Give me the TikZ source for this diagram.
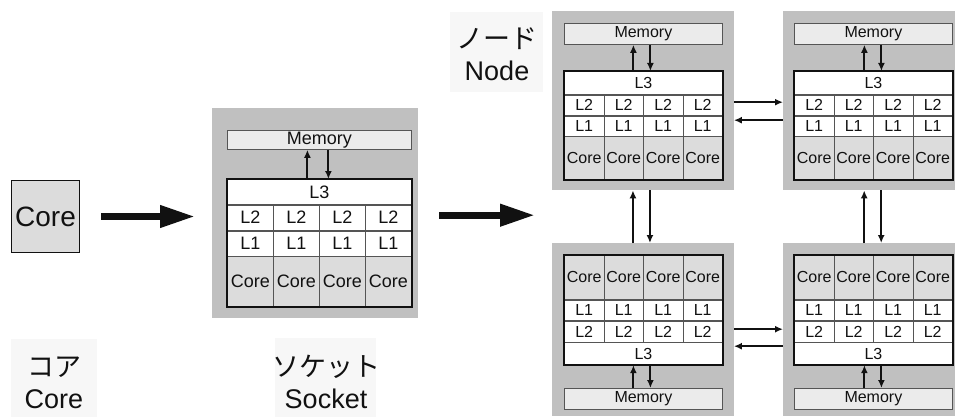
\documentclass[tikz,border=0pt]{standalone}
\usepackage{fontspec}
\setmainfont{Liberation Sans}
\newfontfamily\jpfont{Noto Sans CJK JP}
\usetikzlibrary{arrows.meta,calc}

\definecolor{chassis}{HTML}{C0C0C0}
\definecolor{memfill}{HTML}{EBEBEB}
\definecolor{corefill}{HTML}{DCDCDC}
\definecolor{labelfill}{HTML}{F7F7F7}
\definecolor{gridline}{HTML}{555555}
\definecolor{ink}{HTML}{111111}

\tikzset{
  box/.style={draw=gridline, line width=0.8pt, inner sep=0pt, anchor=north west, text=ink},
  cachecell/.style={box, fill=white},
  corecell/.style={box, fill=corefill},
  membox/.style={box, fill=memfill},
  chassisbox/.style={fill=chassis, inner sep=0pt, anchor=north west},
  frame/.style={draw=ink, line width=1.8pt},
  link/.style={draw=ink, line width=2pt, -{Latex[length=8pt,width=7pt]}},
  bigarrow/.style={draw=ink, line width=7pt, -{Triangle[length=35pt,width=21pt]}},
  captionbg/.style={fill=labelfill, anchor=north west, inner sep=0pt},
  captiontext/.style={align=center, text=ink, inner sep=0pt,
    font=\fontsize{27}{32}\selectfont},
  socketfont/.style={nodes={font=\fontsize{18}{20}\selectfont}},
  nodefont/.style={nodes={font=\fontsize{16}{18}\selectfont}},
}

% cache stack with L3 on top and the cores at the bottom
% #1 prefix, #2 x, #3 y, #4 column width, #5 L1/L2 height, #6 L3 height, #7 core height
\newcommand\stackdown[7]{%
  \node[cachecell, minimum width={4*#4pt}, minimum height=#6pt] (#1l3) at (#2,#3) {L3};
  \foreach \i in {1,2,3,4}{
    \node[cachecell, minimum width=#4pt, minimum height=#5pt] (#1l2\i)
      at ($(#1l3.south west)+({(\i-1)*#4},0)$) {L2};
    \node[cachecell, minimum width=#4pt, minimum height=#5pt] (#1l1\i)
      at (#1l2\i.south west) {L1};
    \node[corecell, minimum width=#4pt, minimum height=#7pt] (#1c\i)
      at (#1l1\i.south west) {Core};
  }
  \draw[frame] (#1l3.north west) rectangle (#1c4.south east);
}

% cache stack with the cores on top and L3 at the bottom
\newcommand\stackup[7]{%
  \foreach \i in {1,2,3,4}{
    \node[corecell, minimum width=#4pt, minimum height=#7pt] (#1c\i)
      at ({#2+(\i-1)*#4},#3) {Core};
    \node[cachecell, minimum width=#4pt, minimum height=#5pt] (#1l1\i)
      at (#1c\i.south west) {L1};
    \node[cachecell, minimum width=#4pt, minimum height=#5pt] (#1l2\i)
      at (#1l1\i.south west) {L2};
  }
  \node[cachecell, minimum width={4*#4pt}, minimum height=#6pt] (#1l3)
    at (#1l21.south west) {L3};
  \draw[frame] (#1c1.north west) rectangle (#1l3.south east);
}

\begin{document}
\begin{tikzpicture}[x=1pt,y=-1pt]
  \useasboundingbox (0,0) rectangle (955,417);
  \fill[white] (0,0) rectangle (955,417);

  % single core
  \node[draw=ink, line width=1pt, fill=corefill, inner sep=0pt, anchor=north west,
        minimum width=68pt, minimum height=72pt, text=ink,
        font=\fontsize{28}{30}\selectfont] (core) at (11,180) {Core};
  \node[captionbg, minimum width=86pt, minimum height=78pt] (corecap) at (11,339) {};
  \node[captiontext] (corecaptext) at (54,382.5) {{\jpfont コア}\\Core};

  % socket
  \node[chassisbox, minimum width=206pt, minimum height=210pt] (sbg) at (212,108) {};
  \begin{scope}[socketfont]
    \node[membox, minimum width=184pt, minimum height=19pt] (smem) at (227,130) {Memory};
    \stackdown{s}{227}{179}{46}{25}{25}{50}
  \end{scope}
  \draw[link] ([xshift=-12pt]sl3.north) -- ([xshift=-12pt]sl3.north |- smem.south);
  \draw[link] ([xshift=9pt]smem.south) -- ([xshift=9pt]smem.south |- sl3.north);
  \node[captionbg, minimum width=101pt, minimum height=79pt] (sockcap) at (275,338) {};
  \node[captiontext] (sockcaptext) at (326,382) {{\jpfont ソケット}\\Socket};

  % node made of four sockets
  \node[captionbg, minimum width=93pt, minimum height=80pt] (nodecap) at (450,12) {};
  \node[captiontext] (nodecaptext) at (497,54) {{\jpfont ノード}\\Node};
  \node[chassisbox, minimum width=181.5pt, minimum height=179pt] (abg) at (552,11) {};
  \node[chassisbox, minimum width=172pt, minimum height=179pt] (bbg) at (783,11) {};
  \node[chassisbox, minimum width=181.5pt, minimum height=173pt] (cbg) at (552,243) {};
  \node[chassisbox, minimum width=172pt, minimum height=173pt] (dbg) at (783,243) {};

  \begin{scope}[nodefont]
    \node[membox, minimum width=158pt, minimum height=21pt] (amem) at (564,23) {Memory};
    \stackdown{a}{564}{71}{39.5}{20}{23}{43}
    \node[membox, minimum width=158pt, minimum height=21pt] (bmem) at (794,23) {Memory};
    \stackdown{b}{794}{71}{39.5}{20}{23}{43}
    \stackup{c}{564}{255}{39.5}{20.5}{22}{44}
    \node[membox, minimum width=158pt, minimum height=21pt] (cmem) at (564,388) {Memory};
    \stackup{d}{794}{255}{39.5}{20.5}{22}{44}
    \node[membox, minimum width=158pt, minimum height=21pt] (dmem) at (794,388) {Memory};
  \end{scope}

  % memory <-> L3 links
  \draw[link] ([xshift=-10pt]al3.north) -- ([xshift=-10pt]al3.north |- amem.south);
  \draw[link] ([xshift=7pt]amem.south) -- ([xshift=7pt]amem.south |- al3.north);
  \draw[link] ([xshift=-9pt]bl3.north) -- ([xshift=-9pt]bl3.north |- bmem.south);
  \draw[link] ([xshift=8pt]bmem.south) -- ([xshift=8pt]bmem.south |- bl3.north);
  \draw[link] ([xshift=-10pt]cmem.north) -- ([xshift=-10pt]cmem.north |- cl3.south);
  \draw[link] ([xshift=7pt]cl3.south) -- ([xshift=7pt]cl3.south |- cmem.north);
  \draw[link] ([xshift=-9pt]dmem.north) -- ([xshift=-9pt]dmem.north |- dl3.south);
  \draw[link] ([xshift=8pt]dl3.south) -- ([xshift=8pt]dl3.south |- dmem.north);

  % socket <-> socket links
  \draw[link] ([yshift=-1.5pt]abg.east) -- ([yshift=-1.5pt]bbg.west);
  \draw[link] ([yshift=-19.5pt]bbg.west) -- ([yshift=-19.5pt]abg.east);
  \draw[link] ([yshift=0.5pt]cbg.east) -- ([yshift=0.5pt]dbg.west);
  \draw[link] ([yshift=-16.5pt]dbg.west) -- ([yshift=-16.5pt]cbg.east);
  \draw[link] ([xshift=-10pt]cbg.north) -- ([xshift=-10pt]abg.south);
  \draw[link] ([xshift=7pt]abg.south) -- ([xshift=7pt]cbg.north);
  \draw[link] ([xshift=-5pt]dbg.north) -- ([xshift=-5pt]bbg.south);
  \draw[link] ([xshift=12pt]bbg.south) -- ([xshift=12pt]dbg.north);

  % core -> socket -> node
  \draw[bigarrow, shorten <=21pt, shorten >=17pt] (core.east) -- (core.east -| sbg.west);
  \draw[bigarrow, shorten <=21pt, shorten >=17pt]
    ([yshift=-2pt]sbg.east) -- ([yshift=-2pt]sbg.east -| abg.west);
\end{tikzpicture}
\end{document}
